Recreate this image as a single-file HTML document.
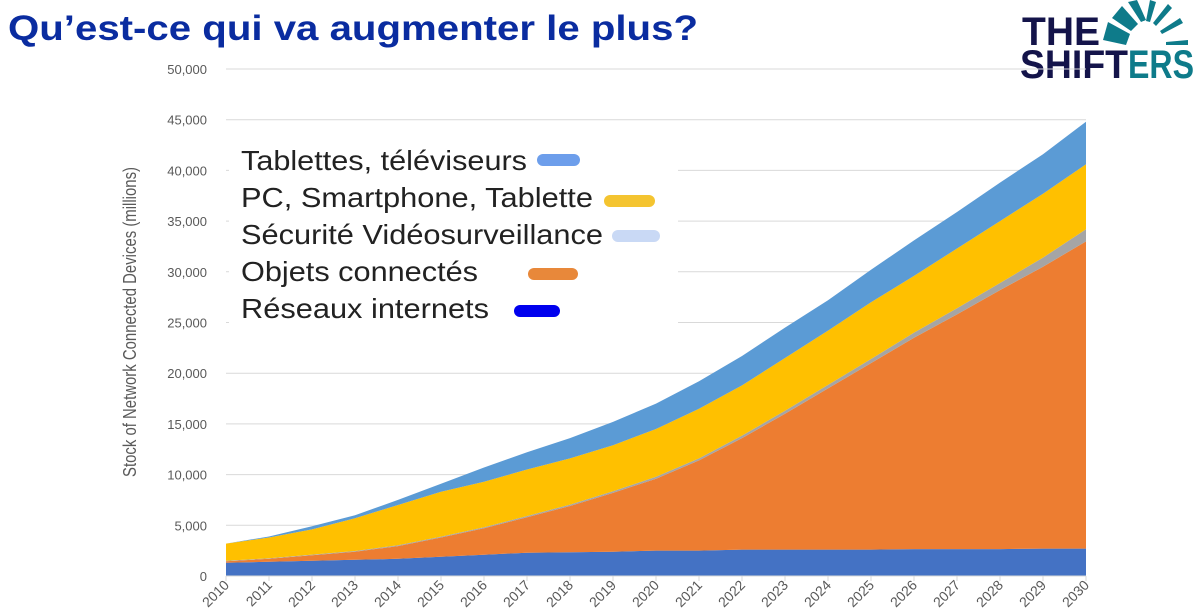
<!DOCTYPE html>
<html><head><meta charset="utf-8">
<style>
html,body{margin:0;padding:0;background:#fff;}
svg{display:block;font-family:"Liberation Sans",sans-serif;}
</style></head>
<body>
<svg id="chart" width="1196" height="615" viewBox="0 0 1196 615" xmlns="http://www.w3.org/2000/svg">
  <text x="8" y="40" font-size="35" font-weight="bold" fill="#0a2ca0" textLength="690" lengthAdjust="spacingAndGlyphs">Qu’est-ce qui va augmenter le plus?</text>
  <g>
    <text x="1022" y="45" font-size="40" font-weight="bold" fill="#14144a" textLength="78" lengthAdjust="spacingAndGlyphs">THE</text>
    <text x="1020" y="78" font-size="40" font-weight="bold" fill="#14144a" textLength="108" lengthAdjust="spacingAndGlyphs">SHIFT</text>
    <text x="1128" y="78" font-size="40" font-weight="bold" fill="#0e7b8a" textLength="66" lengthAdjust="spacingAndGlyphs">ERS</text>
    <g fill="#0e7b8a">
      <path d="M1103,40 L1108,22 L1130,34 L1126,45 Z"/>
      <path d="M1112,18 L1122,6 L1138,24 L1131,31 Z"/>
      <path d="M1128,2 L1137,0 L1146,20 L1141,22 Z"/>
      <path d="M1150,0 L1156,2 L1150,22 L1146,21 Z"/>
      <path d="M1168,4 L1172,8 L1156,26 L1153,23 Z"/>
      <path d="M1180,18 L1183,23 L1162,34 L1160,31 Z"/>
      <path d="M1188,40 L1188,45 L1166,45 L1166,42 Z"/>
    </g>
  </g>
  <g id="grid"></g>
  <g id="areas"></g>
  <g id="yaxis"></g>
  <g id="xaxis"></g>
  <text transform="translate(136,322) rotate(-90)" text-anchor="middle" font-size="18" fill="#595959" textLength="310" lengthAdjust="spacingAndGlyphs">Stock of Network Connected Devices (millions)</text>
  <g>
    <rect x="229" y="128" width="449" height="206" fill="#fff"/>
    <g><text x="241" y="170" font-size="28" fill="#222" textLength="286" lengthAdjust="spacingAndGlyphs">Tablettes, téléviseurs</text><rect x="537" y="154" width="43" height="12" rx="6" fill="#6d9eeb"/></g>
    <g><text x="241" y="207" font-size="28" fill="#222" textLength="352" lengthAdjust="spacingAndGlyphs">PC, Smartphone, Tablette</text><rect x="604" y="195" width="51" height="12" rx="6" fill="#f4c430"/></g>
    <g><text x="241" y="244" font-size="28" fill="#222" textLength="362" lengthAdjust="spacingAndGlyphs">Sécurité Vidéosurveillance</text><rect x="612" y="230" width="48" height="12" rx="6" fill="#c9d9f5"/></g>
    <g><text x="241" y="281" font-size="28" fill="#222" textLength="237" lengthAdjust="spacingAndGlyphs">Objets connectés</text><rect x="528" y="268" width="50" height="12" rx="6" fill="#e8883a"/></g>
    <g><text x="241" y="318" font-size="28" fill="#222" textLength="248" lengthAdjust="spacingAndGlyphs">Réseaux internets</text><rect x="514" y="305" width="46" height="12" rx="6" fill="#0000ee"/></g>
  </g>
</svg>
<script>
const years = ["2010","2011","2012","2013","2014","2015","2016","2017","2018","2019","2020","2021","2022","2023","2024","2025","2026","2027","2028","2029","2030"];
const reseaux = [1300,1400,1500,1600,1700,1900,2100,2300,2350,2400,2500,2500,2600,2600,2600,2600,2650,2650,2650,2700,2700];
const objets = [150,300,550,800,1250,1900,2600,3500,4550,5800,7100,8900,11000,13400,15900,18400,20850,23150,25550,27800,30300];
const securite = [50,50,60,70,80,90,100,120,140,160,180,200,250,300,350,400,500,600,700,900,1200];
const pc = [1700,2050,2490,3230,3970,4410,4500,4580,4560,4540,4720,4900,4950,5200,5350,5600,5600,5900,6100,6300,6400];
const tablettes = [0,100,300,300,500,800,1400,1700,2000,2300,2500,2700,2900,3000,3000,3200,3500,3600,3800,3900,4200];
const yTicks = [0,5000,10000,15000,20000,25000,30000,35000,40000,45000,50000];
const yTickLabels = ["0","5,000","10,000","15,000","20,000","25,000","30,000","35,000","40,000","45,000","50,000"];

const NS="http://www.w3.org/2000/svg";
const X0=226,X1=1086,Y0=576,Y1=69,YMAX=50000;
function xs(i){return X0+(X1-X0)*i/(years.length-1);}
function ys(v){return Y0-(Y0-Y1)*v/YMAX;}
function mk(tag,attrs,parent){const e=document.createElementNS(NS,tag);for(const k in attrs)e.setAttribute(k,attrs[k]);parent.appendChild(e);return e;}

const grid=document.getElementById('grid');
const yaxis=document.getElementById('yaxis');
yTicks.forEach((t,i)=>{
  const l=mk('line',{x1:X0,x2:X1,y1:ys(t),y2:ys(t),stroke:'#d9d9d9','stroke-width':1},grid);
  
  
  const tx=mk('text',{x:207,y:ys(t)+5,'text-anchor':'end','font-size':13,fill:'#595959'},yaxis);
  tx.textContent=yTickLabels[i];
  
  
});

const series=[
  {name:'area-reseaux',vals:reseaux,color:'#4472c4'},
  {name:'area-objets',vals:objets,color:'#ed7d31'},
  {name:'area-securite',vals:securite,color:'#a5a5a5'},
  {name:'area-pc',vals:pc,color:'#ffc000'},
  {name:'area-tablettes',vals:tablettes,color:'#5b9bd5'}
];
const areas=document.getElementById('areas');
let base=years.map(()=>0);
series.forEach(s=>{
  const top=base.map((b,i)=>b+s.vals[i]);
  let d='';
  top.forEach((v,i)=>{d+=(i?'L':'M')+xs(i).toFixed(1)+','+ys(v).toFixed(1);});
  for(let i=years.length-1;i>=0;i--)d+='L'+xs(i).toFixed(1)+','+ys(base[i]).toFixed(1);
  d+='Z';
  const p=mk('path',{d:d,fill:s.color},areas);
  
  
  base=top;
});

const xaxis=document.getElementById('xaxis');
const ax=mk('line',{x1:X0,x2:X1,y1:Y0,y2:Y0,stroke:'#d9d9d9'},xaxis);


years.forEach((y,i)=>{
  const tk=mk('line',{x1:xs(i),x2:xs(i),y1:Y0,y2:Y0+5,stroke:'#d9d9d9'},xaxis);
  
  
  const t=mk('text',{transform:'translate('+(xs(i)+4)+','+(Y0+10)+') rotate(-45)','text-anchor':'end','font-size':14,fill:'#595959'},xaxis);
  t.textContent=y;
  
  
});
</script>
</body></html>
